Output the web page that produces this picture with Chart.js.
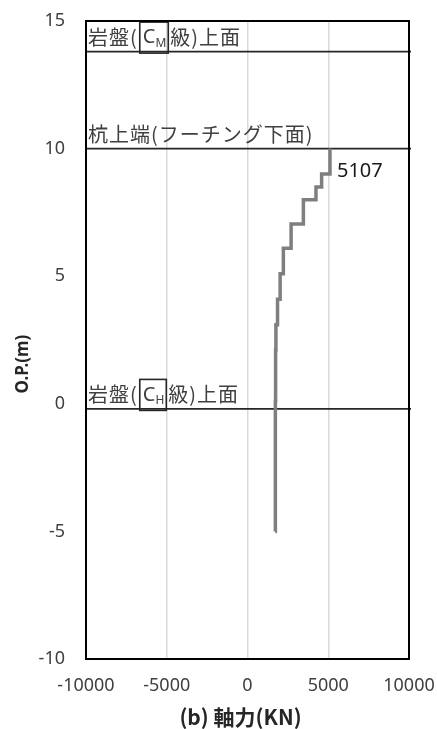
<!DOCTYPE html>
<html><head><meta charset="utf-8">
<script src="https://cdn.jsdelivr.net/npm/chart.js@4/dist/chart.umd.min.js"></script>
<style>html,body{margin:0;padding:0;background:#fff}#wrap{width:437px;height:729px}</style>
</head><body><div id="wrap"><canvas id="c" width="437" height="729"></canvas></div>
<script>
// Data
const axialForce = [5107, 4590, 4240, 3460, 2700, 2220, 2020, 1860, 1760, 1740, 1725, 1720];
const elevation  = [10, 9.0, 8.5, 8.0, 7.05, 6.1, 5.1, 4.1, 3.1, 2.1, 0.1, -5.0];
const xTicks = [-10000, -5000, 0, 5000, 10000];
const yTicks = [-10, -5, 0, 5, 10, 15];
const refLevels = [13.8, 10, -0.2];
const refLabels = [['岩盤(', 'C', 'M', '級)上面'], ['杭上端(フーチング下面)'], ['岩盤(', 'C', 'H', '級)上面']];
const peakLabel = '5107';
const xTitle = '(b) 軸力(KN)';
const yTitle = 'O.P.(m)';

const JP = '"Noto Sans CJK JP", "Noto Sans", sans-serif';
const NUM = '"Noto Sans", "DejaVu Sans", sans-serif';
const TICK_COLOR = '#404040';

const points = axialForce.map((v, i) => ({ x: v, y: elevation[i] }));

const refPlugin = {
  id: 'refPlugin',
  beforeDatasetsDraw(chart) {
    const { ctx, chartArea: a, scales: { y } } = chart;
    ctx.save();
    ctx.strokeStyle = '#262626';
    ctx.lineWidth = 1.6;
    refLevels.forEach((v, i) => {
      const py = y.getPixelForValue(v);
      ctx.beginPath();
      ctx.moveTo(a.left, py);
      ctx.lineTo(a.right + 2, py);
      ctx.stroke();
      const parts = refLabels[i];
      const ty = py - 14;
      let tx = a.left + 2;
      ctx.fillStyle = '#404040';
      ctx.textBaseline = 'middle';
      ctx.textAlign = 'left';
      ctx.font = '20px ' + JP;
      ctx.letterSpacing = '1px';
      if (parts.length === 1) {
        ctx.fillText(parts[0], tx, ty);
      } else {
        ctx.fillText(parts[0], tx, ty);
        tx += ctx.measureText(parts[0]).width + 2;
        const bx = tx;
        tx += 3;
        ctx.letterSpacing = '0px';
        ctx.font = '20px ' + NUM;
        ctx.fillText(parts[1], tx, ty);
        tx += ctx.measureText(parts[1]).width;
        ctx.font = '12px ' + NUM;
        ctx.fillText(parts[2], tx, ty + 6);
        tx += ctx.measureText(parts[2]).width + 2;
        ctx.strokeStyle = '#262626';
        ctx.lineWidth = 1.6;
        ctx.strokeRect(bx, ty - 15.5, tx - bx, 31);
        tx += 2;
        ctx.letterSpacing = '1px';
        ctx.font = '20px ' + JP;
        ctx.fillText(parts[3], tx, ty);
      }
      ctx.letterSpacing = '0px';
    });
    ctx.restore();
  },
  afterDatasetsDraw(chart) {
    const { ctx, chartArea: a, scales: { x, y } } = chart;
    ctx.save();
    ctx.strokeStyle = '#000';
    ctx.lineWidth = 2;
    ctx.strokeRect(a.left, a.top, a.right - a.left, a.bottom - a.top);
    const px = x.getPixelForValue(axialForce[0]);
    const py = y.getPixelForValue(elevation[0]);
    ctx.fillStyle = '#1a1a1a';
    ctx.font = '20px ' + NUM;
    ctx.textAlign = 'left';
    ctx.textBaseline = 'middle';
    ctx.fillText(peakLabel, px + 7, py + 23);
    ctx.fillStyle = '#262626';
    ctx.font = 'bold 21px ' + JP;
    ctx.textAlign = 'center';
    ctx.fillText(xTitle, (a.left + a.right) / 2 - 7, a.bottom + 58);
    ctx.translate(23.5, (a.top + a.bottom) / 2 + 24);
    ctx.rotate(-Math.PI / 2);
    ctx.font = 'bold 17px ' + NUM;
    ctx.fillText(yTitle, 0, 0);
    ctx.restore();
  }
};

new Chart(document.getElementById('c'), {
  type: 'scatter',
  data: {
    datasets: [{
      data: points,
      showLine: true,
      stepped: 'after',
      borderColor: '#7f7f7f',
      borderWidth: 3.5,
      pointRadius: 0,
      fill: false
    }]
  },
  options: {
    responsive: false,
    animation: false,
    layout: { padding: { left: 0, right: 28, top: 21, bottom: 0 } },
    plugins: { legend: { display: false }, tooltip: { enabled: false } },
    scales: {
      x: {
        type: 'linear',
        min: xTicks[0], max: xTicks[xTicks.length - 1],
        afterBuildTicks: s => { s.ticks = xTicks.map(v => ({ value: v })); },
        afterFit: s => { s.height = 70; s.paddingLeft = 0; s.paddingRight = 0; },
        ticks: { color: TICK_COLOR, font: { size: 18, family: NUM }, padding: 16, maxRotation: 0,
                 callback: v => String(v) },
        grid: {
          drawTicks: false,
          lineWidth: 1.5,
          color: c => (c.tick && Math.abs(c.tick.value) === 10000) ? 'rgba(0,0,0,0)' : '#d9d9d9'
        },
        border: { display: false }
      },
      y: {
        type: 'linear',
        min: yTicks[0], max: yTicks[yTicks.length - 1],
        afterBuildTicks: s => { s.ticks = yTicks.map(v => ({ value: v })); },
        afterFit: s => { s.width = 86; s.paddingTop = 0; s.paddingBottom = 0; },
        ticks: { color: TICK_COLOR, font: { size: 18, family: NUM }, padding: 21, callback: v => String(v) },
        grid: { display: false, drawTicks: false },
        border: { display: false }
      }
    }
  },
  plugins: [refPlugin]
});
</script>
</body></html>
